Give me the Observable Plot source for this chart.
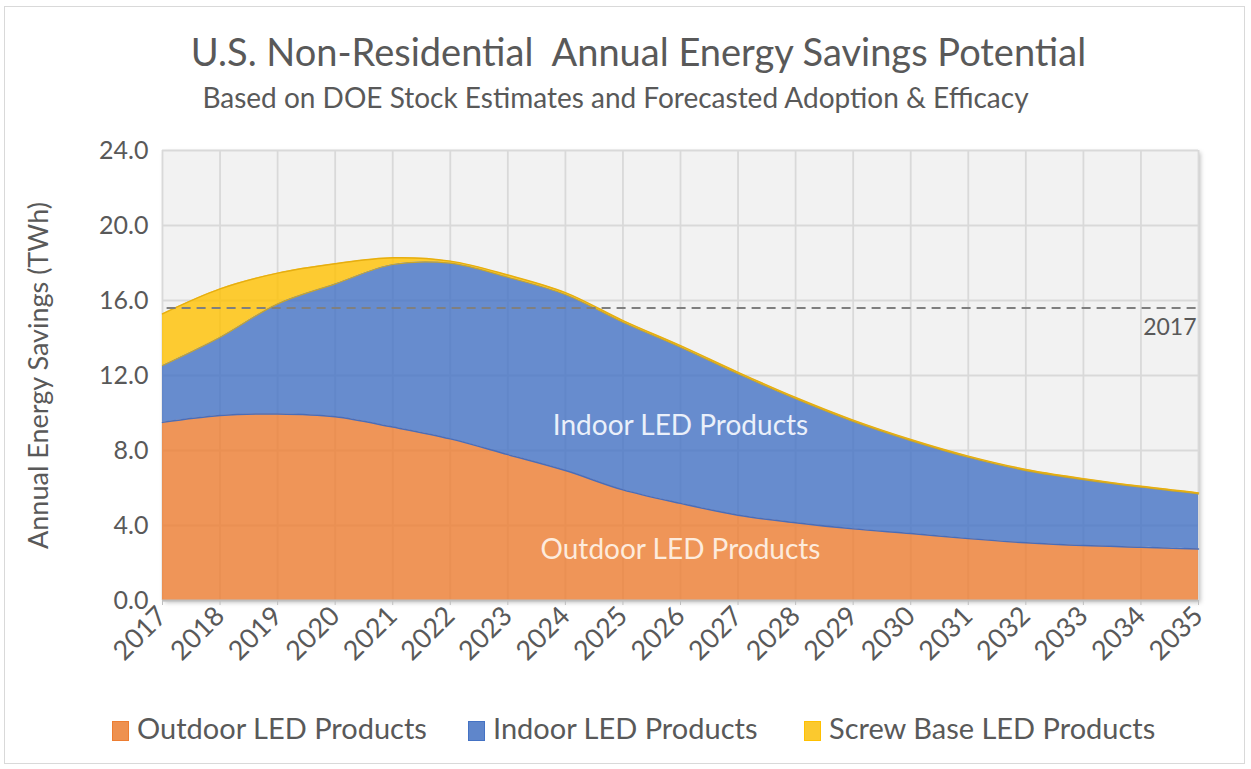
<!DOCTYPE html>
<html>
<head>
<meta charset="utf-8">
<script src="https://cdn.jsdelivr.net/npm/d3@7"></script>
<script src="https://cdn.jsdelivr.net/npm/@observablehq/plot@0.6"></script>
<style>
  html, body { margin: 0; padding: 0; background: #fff; }
  #wrap { position: relative; width: 1251px; height: 769px; font-family: Lato, "Open Sans", sans-serif; color: #595959; overflow: hidden; }
  #border { position: absolute; left: 4px; top: 6px; width: 1241px; height: 758px; border: 1.5px solid #D9D9D9; box-sizing: border-box; }
  #title { position: absolute; top: 28px; left: 26px; width: 1225px; text-align: center; font-size: 38px; white-space: pre; }
  #subtitle { position: absolute; top: 80px; left: -20px; width: 1271px; text-align: center; font-size: 28px; }
  #chart { position: absolute; left: 0; top: 130px; }
  #legend { position: absolute; top: 708px; left: 0; width: 100%; height: 40px; }
  .item { position: absolute; top: 0; font-size: 29px; line-height: 40px; white-space: nowrap; }
  .sw { display: inline-block; width: 17px; height: 20px; vertical-align: -2px; margin-right: 8px; box-sizing: border-box; }
</style>
</head>
<body>
<div id="wrap">
  <div id="border"></div>
  <div id="title"></div>
  <div id="subtitle"></div>
  <div id="chart"></div>
  <div id="legend"></div>
</div>
<script>
// ---- data ----
const years = [2017, 2018, 2019, 2020, 2021, 2022, 2023, 2024, 2025, 2026, 2027, 2028, 2029, 2030, 2031, 2032, 2033, 2034, 2035];
const outdoor = [9.50, 9.87, 9.95, 9.80, 9.25, 8.62, 7.78, 6.93, 5.90, 5.18, 4.55, 4.15, 3.82, 3.57, 3.30, 3.08, 2.93, 2.84, 2.75];
const indoor = [3.03, 4.17, 5.87, 7.09, 8.67, 9.37, 9.46, 9.39, 8.94, 8.33, 7.54, 6.61, 5.73, 4.96, 4.34, 3.85, 3.52, 3.20, 2.94];
const screwBase = [2.76, 2.58, 1.64, 1.07, 0.36, 0.11, 0.12, 0.10, 0.09, 0.08, 0.08, 0.07, 0.07, 0.06, 0.06, 0.06, 0.05, 0.05, 0.05];
const seriesNames = ["Outdoor LED Products", "Indoor LED Products", "Screw Base LED Products"];
const yTicks = [0, 4, 8, 12, 16, 20, 24];
const reference2017 = 15.6;
const referenceLabel = "2017";
const areaLabels = [
  {text: "Indoor LED Products", year: 2026, value: 9.33},
  {text: "Outdoor LED Products", year: 2026, value: 2.67}
];
const titleText = "U.S. Non-Residential  Annual Energy Savings Potential";
const subtitleText = "Based on DOE Stock Estimates and Forecasted Adoption & Efficacy";
const yLabel = "Annual Energy Savings (TWh)";

// ---- styles ----
const baseColors = ["#ED7D31", "#4472C4", "#FFC000"];
const lineColors = ["#4A6DB8", "#C9A52A", "#E6AE10"];
const legendFill = ["#EE9150", "#5F86CB", "#FBC92E"];

// ---- build tables ----
const seriesValues = [outdoor, indoor, screwBase];
const table = [];
seriesValues.forEach((vals, si) => {
  years.forEach((yr, i) => table.push({year: yr, series: seriesNames[si], value: vals[i]}));
});
const cumOutdoor = years.map((yr, i) => ({year: yr, v: outdoor[i]}));
const cumIndoor = years.map((yr, i) => ({year: yr, v: outdoor[i] + indoor[i]}));
const cumTotal = years.map((yr, i) => ({year: yr, v: outdoor[i] + indoor[i] + screwBase[i]}));

document.getElementById("title").textContent = titleText;
document.getElementById("subtitle").textContent = subtitleText;

const curve = "catmull-rom";
const plot = Plot.plot({
  width: 1251,
  height: 560,
  marginLeft: 162,
  marginRight: 53,
  marginTop: 20,
  marginBottom: 90,
  style: {fontFamily: "Lato, 'Open Sans', sans-serif", color: "#595959", background: "transparent"},
  x: {domain: [2017, 2035]},
  y: {domain: [0, 24]},
  color: {domain: seriesNames, range: baseColors},
  marks: [
    Plot.frame({fill: "#F2F2F2", stroke: null}),
    Plot.gridX(years, {stroke: "#D9D9D9", strokeOpacity: 1, strokeWidth: 1.8}),
    Plot.gridY(yTicks, {stroke: "#D9D9D9", strokeOpacity: 1, strokeWidth: 1.8}),
    Plot.areaY(table, {x: "year", y: "value", fill: "series", fillOpacity: 0.8, curve}),
    Plot.lineY(cumOutdoor, {x: "year", y: "v", stroke: lineColors[0], strokeWidth: 1.5, curve}),
    Plot.lineY(cumIndoor, {x: "year", y: "v", stroke: lineColors[1], strokeWidth: 1.2, curve}),
    Plot.lineY(cumTotal, {x: "year", y: "v", stroke: lineColors[2], strokeWidth: 1.5, curve}),
    Plot.ruleY([reference2017], {x1: 2017.08, x2: 2035, stroke: "#7F7F7F", strokeWidth: 1.8, strokeDasharray: "9,6"}),
    Plot.text([reference2017], {x: 2035, y: d => d, text: () => referenceLabel, textAnchor: "end", dx: -2, dy: 20, fontSize: 23, fill: "#595959"}),
    Plot.text(areaLabels, {x: "year", y: "value", text: "text", fontSize: 28, fill: (d, i) => i === 0 ? "#EAF0FA" : "#FDEBDD"}),
    Plot.ruleY([0], {stroke: "#BFBFBF", strokeWidth: 2}),
    Plot.axisX({ticks: years, tickFormat: d => String(d), tickRotate: -45, fontSize: 27, tickSize: 5, tickPadding: 6, stroke: "#BFBFBF", label: null}),
    Plot.axisY({ticks: yTicks, tickFormat: d => d.toFixed(1), fontSize: 25, tickSize: 0, tickPadding: 14, label: yLabel, labelAnchor: "center", labelOffset: 134, labelArrow: "none"})
  ]
});
// soft shadow on plotting area
const fr = plot.querySelector('[aria-label="frame"]');
if (fr) fr.style.filter = "drop-shadow(2px 2px 2px rgba(0,0,0,0.25))";
const yl = plot.querySelector('[aria-label="y-axis label"] text');
if (yl) yl.setAttribute("font-size", "27");
document.getElementById("chart").appendChild(plot);

// legend
const legendX = [112, 468, 804];
const legend = document.getElementById("legend");
seriesNames.forEach((name, i) => {
  const it = document.createElement("div");
  it.className = "item";
  it.style.left = legendX[i] + "px";
  const sw = document.createElement("span");
  sw.className = "sw";
  sw.style.background = legendFill[i];
  sw.style.border = "1px solid " + baseColors[i];
  it.appendChild(sw);
  it.appendChild(document.createTextNode(name));
  legend.appendChild(it);
});
</script>
</body>
</html>
